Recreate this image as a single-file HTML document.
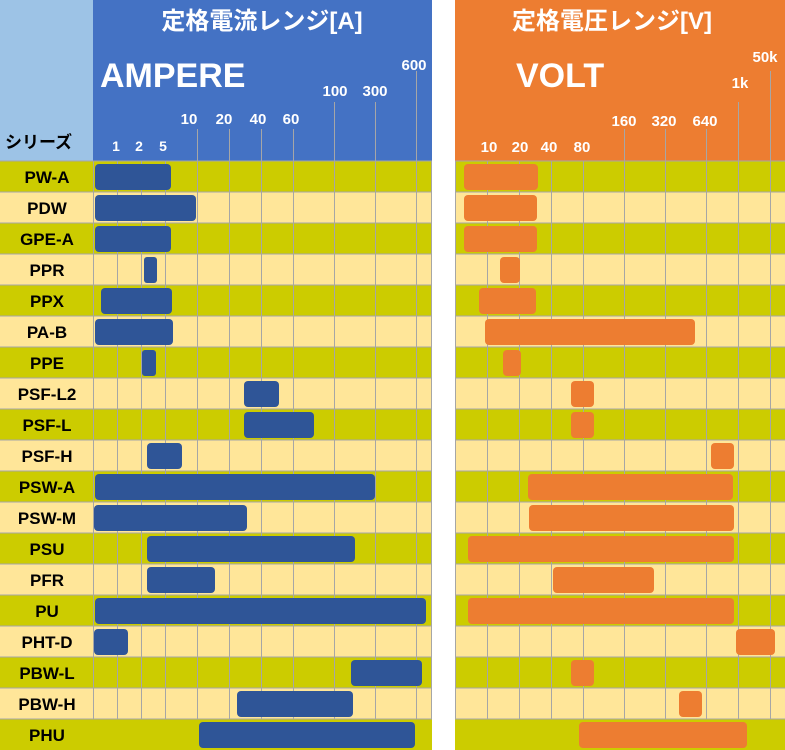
<!DOCTYPE html>
<html><head><meta charset="utf-8"><style>
body{margin:0;background:#fff}
svg{display:block}
.t{font-family:"Liberation Sans","Noto Sans CJK JP",sans-serif}
</style></head><body>
<svg width="785" height="750" xmlns="http://www.w3.org/2000/svg" class="t">
<rect x="0" y="0" width="93" height="161" fill="#9DC3E6"/>
<rect x="93" y="0" width="339" height="161" fill="#4472C4"/>
<rect x="455" y="0" width="330" height="161" fill="#ED7D31"/>
<g id="rows">
<rect x="0" y="161" width="432" height="31" fill="#CCCC00"/><rect x="455" y="161" width="330" height="31" fill="#CCCC00"/>
<rect x="0" y="192" width="432" height="31" fill="#FFE699"/><rect x="455" y="192" width="330" height="31" fill="#FFE699"/>
<rect x="0" y="223" width="432" height="31" fill="#CCCC00"/><rect x="455" y="223" width="330" height="31" fill="#CCCC00"/>
<rect x="0" y="254" width="432" height="31" fill="#FFE699"/><rect x="455" y="254" width="330" height="31" fill="#FFE699"/>
<rect x="0" y="285" width="432" height="31" fill="#CCCC00"/><rect x="455" y="285" width="330" height="31" fill="#CCCC00"/>
<rect x="0" y="316" width="432" height="31" fill="#FFE699"/><rect x="455" y="316" width="330" height="31" fill="#FFE699"/>
<rect x="0" y="347" width="432" height="31" fill="#CCCC00"/><rect x="455" y="347" width="330" height="31" fill="#CCCC00"/>
<rect x="0" y="378" width="432" height="31" fill="#FFE699"/><rect x="455" y="378" width="330" height="31" fill="#FFE699"/>
<rect x="0" y="409" width="432" height="31" fill="#CCCC00"/><rect x="455" y="409" width="330" height="31" fill="#CCCC00"/>
<rect x="0" y="440" width="432" height="31" fill="#FFE699"/><rect x="455" y="440" width="330" height="31" fill="#FFE699"/>
<rect x="0" y="471" width="432" height="31" fill="#CCCC00"/><rect x="455" y="471" width="330" height="31" fill="#CCCC00"/>
<rect x="0" y="502" width="432" height="31" fill="#FFE699"/><rect x="455" y="502" width="330" height="31" fill="#FFE699"/>
<rect x="0" y="533" width="432" height="31" fill="#CCCC00"/><rect x="455" y="533" width="330" height="31" fill="#CCCC00"/>
<rect x="0" y="564" width="432" height="31" fill="#FFE699"/><rect x="455" y="564" width="330" height="31" fill="#FFE699"/>
<rect x="0" y="595" width="432" height="31" fill="#CCCC00"/><rect x="455" y="595" width="330" height="31" fill="#CCCC00"/>
<rect x="0" y="626" width="432" height="31" fill="#FFE699"/><rect x="455" y="626" width="330" height="31" fill="#FFE699"/>
<rect x="0" y="657" width="432" height="31" fill="#CCCC00"/><rect x="455" y="657" width="330" height="31" fill="#CCCC00"/>
<rect x="0" y="688" width="432" height="31" fill="#FFE699"/><rect x="455" y="688" width="330" height="31" fill="#FFE699"/>
<rect x="0" y="719" width="432" height="31" fill="#CCCC00"/><rect x="455" y="719" width="330" height="31" fill="#CCCC00"/>
</g>
<g stroke="#A6A6A6" stroke-width="1">
<line x1="0" x2="432" y1="161" y2="161"/><line x1="455" x2="785" y1="161" y2="161"/>
<line x1="0" x2="432" y1="192" y2="192"/><line x1="455" x2="785" y1="192" y2="192"/>
<line x1="0" x2="432" y1="223" y2="223"/><line x1="455" x2="785" y1="223" y2="223"/>
<line x1="0" x2="432" y1="254" y2="254"/><line x1="455" x2="785" y1="254" y2="254"/>
<line x1="0" x2="432" y1="285" y2="285"/><line x1="455" x2="785" y1="285" y2="285"/>
<line x1="0" x2="432" y1="316" y2="316"/><line x1="455" x2="785" y1="316" y2="316"/>
<line x1="0" x2="432" y1="347" y2="347"/><line x1="455" x2="785" y1="347" y2="347"/>
<line x1="0" x2="432" y1="378" y2="378"/><line x1="455" x2="785" y1="378" y2="378"/>
<line x1="0" x2="432" y1="409" y2="409"/><line x1="455" x2="785" y1="409" y2="409"/>
<line x1="0" x2="432" y1="440" y2="440"/><line x1="455" x2="785" y1="440" y2="440"/>
<line x1="0" x2="432" y1="471" y2="471"/><line x1="455" x2="785" y1="471" y2="471"/>
<line x1="0" x2="432" y1="502" y2="502"/><line x1="455" x2="785" y1="502" y2="502"/>
<line x1="0" x2="432" y1="533" y2="533"/><line x1="455" x2="785" y1="533" y2="533"/>
<line x1="0" x2="432" y1="564" y2="564"/><line x1="455" x2="785" y1="564" y2="564"/>
<line x1="0" x2="432" y1="595" y2="595"/><line x1="455" x2="785" y1="595" y2="595"/>
<line x1="0" x2="432" y1="626" y2="626"/><line x1="455" x2="785" y1="626" y2="626"/>
<line x1="0" x2="432" y1="657" y2="657"/><line x1="455" x2="785" y1="657" y2="657"/>
<line x1="0" x2="432" y1="688" y2="688"/><line x1="455" x2="785" y1="688" y2="688"/>
<line x1="0" x2="432" y1="719" y2="719"/><line x1="455" x2="785" y1="719" y2="719"/>
<line x1="93.5" x2="93.5" y1="161" y2="719"/>
<line x1="117.5" x2="117.5" y1="161" y2="719"/>
<line x1="141.5" x2="141.5" y1="161" y2="719"/>
<line x1="165.5" x2="165.5" y1="161" y2="719"/>
<line x1="197.5" x2="197.5" y1="129" y2="719"/>
<line x1="229.5" x2="229.5" y1="129" y2="719"/>
<line x1="261.5" x2="261.5" y1="129" y2="719"/>
<line x1="293.5" x2="293.5" y1="129" y2="719"/>
<line x1="334.5" x2="334.5" y1="102" y2="719"/>
<line x1="375.5" x2="375.5" y1="102" y2="719"/>
<line x1="416.5" x2="416.5" y1="71" y2="719"/>
<line x1="431.5" x2="431.5" y1="161" y2="719"/>
<line x1="455.5" x2="455.5" y1="161" y2="719"/>
<line x1="487.5" x2="487.5" y1="161" y2="719"/>
<line x1="519.5" x2="519.5" y1="161" y2="719"/>
<line x1="551.5" x2="551.5" y1="161" y2="719"/>
<line x1="583.5" x2="583.5" y1="161" y2="719"/>
<line x1="624.5" x2="624.5" y1="129" y2="719"/>
<line x1="665.5" x2="665.5" y1="129" y2="719"/>
<line x1="706.5" x2="706.5" y1="129" y2="719"/>
<line x1="738.5" x2="738.5" y1="102" y2="719"/>
<line x1="770.5" x2="770.5" y1="71" y2="719"/>
</g>
<g fill="#fff" font-size="15" text-anchor="middle" font-weight="bold">
<text x="262" y="29" font-size="24">定格電流レンジ[A]</text>
<text x="612" y="29" font-size="24">定格電圧レンジ[V]</text>
<text x="100" y="87" font-size="34" text-anchor="start">AMPERE</text>
<text x="516" y="87" font-size="34" text-anchor="start">VOLT</text>
<text x="116" y="151" font-size="14">1</text><text x="139" y="151" font-size="14">2</text><text x="163" y="151" font-size="14">5</text>
<text x="189" y="124">10</text><text x="224" y="124">20</text><text x="258" y="124">40</text><text x="291" y="124">60</text>
<text x="335" y="96">100</text><text x="375" y="96">300</text><text x="414" y="70">600</text>
<text x="489" y="152">10</text><text x="520" y="152">20</text><text x="549" y="152">40</text><text x="582" y="152">80</text>
<text x="624" y="126">160</text><text x="664" y="126">320</text><text x="705" y="126">640</text>
<text x="740" y="88">1k</text><text x="765" y="62">50k</text>
</g>
<text x="5" y="148" font-size="17" font-weight="bold" fill="#000">シリーズ</text>
<g font-size="17" font-weight="bold" fill="#000" text-anchor="middle">
<text x="47" y="183">PW-A</text><text x="47" y="214">PDW</text><text x="47" y="245">GPE-A</text>
<text x="47" y="276">PPR</text><text x="47" y="307">PPX</text><text x="47" y="338">PA-B</text>
<text x="47" y="369">PPE</text><text x="47" y="400">PSF-L2</text><text x="47" y="431">PSF-L</text>
<text x="47" y="462">PSF-H</text><text x="47" y="493">PSW-A</text><text x="47" y="524">PSW-M</text>
<text x="47" y="555">PSU</text><text x="47" y="586">PFR</text><text x="47" y="617">PU</text>
<text x="47" y="648">PHT-D</text><text x="47" y="679">PBW-L</text><text x="47" y="710">PBW-H</text>
<text x="47" y="741">PHU</text>
</g>
<g fill="#2F5597">
<rect x="95" y="164" width="76" height="26" rx="4"/>
<rect x="95" y="195" width="101" height="26" rx="4"/>
<rect x="95" y="226" width="76" height="26" rx="4"/>
<rect x="144" y="257" width="13" height="26" rx="3"/>
<rect x="101" y="288" width="71" height="26" rx="4"/>
<rect x="95" y="319" width="78" height="26" rx="4"/>
<rect x="142" y="350" width="14" height="26" rx="3"/>
<rect x="244" y="381" width="35" height="26" rx="4"/>
<rect x="244" y="412" width="70" height="26" rx="4"/>
<rect x="147" y="443" width="35" height="26" rx="4"/>
<rect x="95" y="474" width="280" height="26" rx="4"/>
<rect x="94" y="505" width="153" height="26" rx="4"/>
<rect x="147" y="536" width="208" height="26" rx="4"/>
<rect x="147" y="567" width="68" height="26" rx="4"/>
<rect x="95" y="598" width="331" height="26" rx="4"/>
<rect x="94" y="629" width="34" height="26" rx="4"/>
<rect x="351" y="660" width="71" height="26" rx="4"/>
<rect x="237" y="691" width="116" height="26" rx="4"/>
<rect x="199" y="722" width="216" height="26" rx="4"/>
</g>
<g fill="#ED7D31">
<rect x="464" y="164" width="74" height="26" rx="4"/>
<rect x="464" y="195" width="73" height="26" rx="4"/>
<rect x="464" y="226" width="73" height="26" rx="4"/>
<rect x="500" y="257" width="20" height="26" rx="4"/>
<rect x="479" y="288" width="57" height="26" rx="4"/>
<rect x="485" y="319" width="210" height="26" rx="4"/>
<rect x="503" y="350" width="18" height="26" rx="4"/>
<rect x="571" y="381" width="23" height="26" rx="4"/>
<rect x="571" y="412" width="23" height="26" rx="4"/>
<rect x="711" y="443" width="23" height="26" rx="4"/>
<rect x="528" y="474" width="205" height="26" rx="4"/>
<rect x="529" y="505" width="205" height="26" rx="4"/>
<rect x="468" y="536" width="266" height="26" rx="4"/>
<rect x="553" y="567" width="101" height="26" rx="4"/>
<rect x="468" y="598" width="266" height="26" rx="4"/>
<rect x="736" y="629" width="39" height="26" rx="4"/>
<rect x="571" y="660" width="23" height="26" rx="4"/>
<rect x="679" y="691" width="23" height="26" rx="4"/>
<rect x="579" y="722" width="168" height="26" rx="4"/>
</g>
</svg>
</body></html>
